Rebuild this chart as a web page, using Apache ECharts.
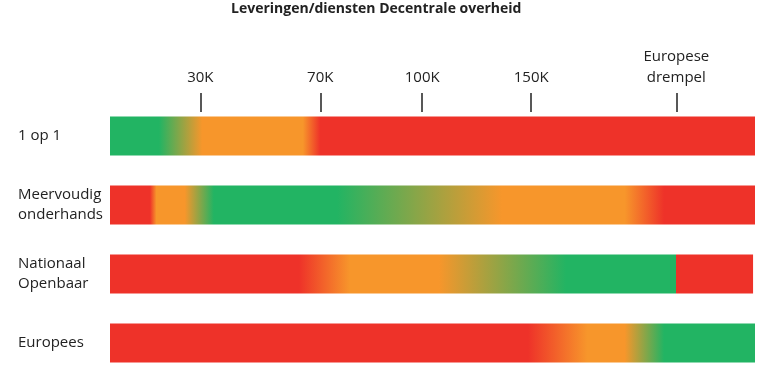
<!DOCTYPE html>
<html>
<head>
<meta charset="utf-8">
<script src="https://cdn.jsdelivr.net/npm/echarts@6/dist/echarts.min.js"></script>
<style>html,body{margin:0;padding:0;background:#fff}#c{width:764px;height:380px}</style>
</head>
<body>
<div id="c"></div>
<script>
// Data
var title = 'Leveringen/diensten Decentrale overheid';
var categories = ['1 op 1', 'Meervoudig\nonderhands', 'Nationaal\nOpenbaar', 'Europees'];
// bar lengths as % of the full scale
var barEnds = [100, 100, 99.7, 100];
// tick positions (% along the bar) and their labels
var tickPositions = [14, 32.6, 48.4, 65.3, 87.8];
var tickLabels = ['30K', '70K', '100K', '150K', 'Europese\ndrempel'];
// colour zones per row: [position %, zone] (g = green, o = orange, r = red)
var zones1 = [[0,'g'],[7.6,'g'],[14.3,'o'],[29.9,'o'],[32.6,'r'],[100,'r']];
var zones2 = [[0,'r'],[6.2,'r'],[7.2,'o'],[11.6,'o'],[16.1,'g'],[35.2,'g'],[60.8,'o'],[79.8,'o'],[85.9,'r'],[100,'r']];
var zones3 = [[0,'r'],[29.3,'r'],[37.2,'o'],[51,'o'],[70.7,'g'],[87.8,'g'],[87.8,'r'],[100,'r']];
var zones4 = [[0,'r'],[64.8,'r'],[74,'o'],[79.8,'o'],[85.9,'g'],[100,'g']];
var zones = [zones1, zones2, zones3, zones4];

var palette = { g: '#22b463', o: '#f7962b', r: '#ee3229' };

function gradientFor(z, end) {
  return new echarts.graphic.LinearGradient(0, 0, 1, 0, z.map(function (s) {
    return { offset: Math.min(1, s[0] / end), color: palette[s[1]] };
  }));
}

var labelMap = {};
tickPositions.forEach(function (p, i) { labelMap[p] = tickLabels[i]; });

var chart = echarts.init(document.getElementById('c'), null, { renderer: 'canvas' });
chart.setOption({
  animation: false,
  backgroundColor: '#fff',
  title: {
    text: title,
    left: 226,
    top: -3,
    textStyle: { fontFamily: 'Open Sans', fontSize: 14, fontWeight: 'bold', color: '#222' }
  },
  grid: { left: 110, right: 9, top: 101.5, bottom: 2.5 },
  xAxis: {
    type: 'value',
    min: 0,
    max: 100,
    position: 'top',
    offset: 8.5,
    axisLine: { show: false },
    splitLine: { show: false },
    axisTick: {
      show: true,
      inside: true,
      length: 19,
      customValues: tickPositions,
      lineStyle: { color: '#222', width: 1.5 }
    },
    axisLabel: {
      show: true,
      customValues: tickPositions,
      margin: 5,
      fontFamily: 'Open Sans',
      fontSize: 15,
      lineHeight: 21,
      color: '#222',
      formatter: function (v) { return labelMap[v] || ''; }
    }
  },
  yAxis: {
    type: 'category',
    data: categories,
    inverse: true,
    axisLine: { show: false },
    axisTick: { show: false },
    splitLine: { show: false },
    axisLabel: {
      align: 'left',
      margin: 92,
      fontFamily: 'Open Sans',
      fontSize: 15,
      lineHeight: 20,
      color: '#222',
      padding: [0, 0, 12, 0]
    }
  },
  series: [{
    type: 'bar',
    barWidth: 39,
    silent: true,
    data: barEnds.map(function (v, i) {
      return { value: v, itemStyle: { color: gradientFor(zones[i], v) } };
    })
  }]
});
</script>
</body>
</html>
